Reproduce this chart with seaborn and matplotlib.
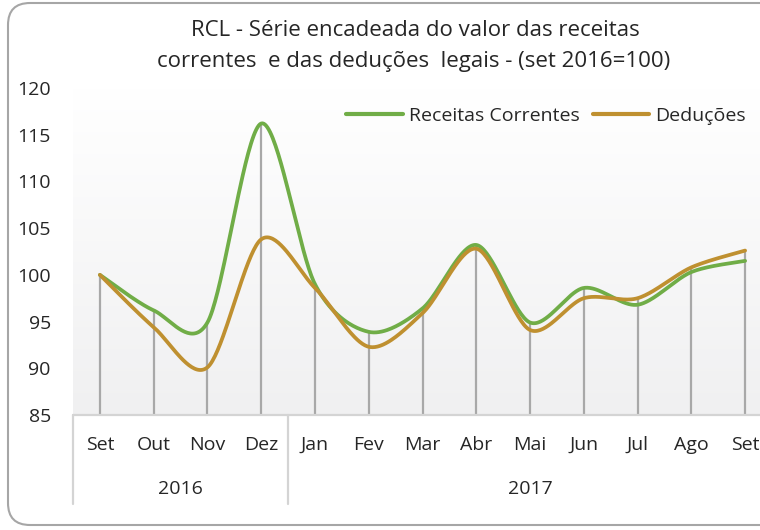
import numpy as np
import pandas as pd
import matplotlib
matplotlib.use("Agg")
import matplotlib.pyplot as plt
from matplotlib.colors import LinearSegmentedColormap
from matplotlib.patches import PathPatch
from matplotlib.path import Path
from matplotlib.lines import Line2D
import matplotlib.transforms as mtransforms
import seaborn as sns

# ---- data -------------------------------------------------------------
months = ["Set", "Out", "Nov", "Dez", "Jan", "Fev", "Mar", "Abr", "Mai",
          "Jun", "Jul", "Ago", "Set"]
years = ["2016", "2017"]
year_sizes = [4, 9]
receitas = [100.0, 96.2, 94.9, 116.2, 99.0, 93.9, 96.4, 103.2, 94.9,
            98.6, 96.8, 100.3, 101.5]
deducoes = [100.0, 94.4, 90.1, 103.8, 98.6, 92.3, 95.9, 102.8, 94.1,
            97.5, 97.5, 100.8, 102.6]
series_names = ["Receitas Correntes", "Deduções"]
y_ticks = [85, 90, 95, 100, 105, 110, 115, 120]
title = ("RCL - Série encadeada do valor das receitas",
         "correntes  e das deduções  legais - (set 2016=100)")

GREEN = "#70AD47"
GOLD = "#BF9030"
DROP = "#A8A8A8"
TEXT = "#262626"

sns.set_theme(style="white")
plt.rcParams["font.family"] = ["Open Sans", "DejaVu Sans"]


def smooth_curve(values, k=0.15, n=40):
    """Cubic Bezier smoothing through every point (spreadsheet style)."""
    y = np.asarray(values, float)
    x = np.arange(len(y), dtype=float)
    xs, ys = [], []
    last = len(y) - 2
    for i in range(len(y) - 1):
        i0 = max(i - 1, 0)
        i3 = min(i + 2, len(y) - 1)
        px = [x[i], x[i] + (x[i + 1] - x[i0]) * k,
              x[i + 1] - (x[i3] - x[i]) * k, x[i + 1]]
        py = [y[i], y[i] + (y[i + 1] - y[i0]) * k,
              y[i + 1] - (y[i3] - y[i]) * k, y[i + 1]]
        t = np.linspace(0, 1, n, endpoint=(i == last))
        b = [(1 - t) ** 3, 3 * (1 - t) ** 2 * t, 3 * (1 - t) * t ** 2, t ** 3]
        xs.append(sum(bi * p for bi, p in zip(b, px)))
        ys.append(sum(bi * p for bi, p in zip(b, py)))
    return np.concatenate(xs), np.concatenate(ys)


W, H = 760, 530
fig = plt.figure(figsize=(W / 100, H / 100), dpi=100)
fig.patch.set_facecolor("white")

x_left, x_right = 73, 772
y_top, y_bot = 88, 415
ax = fig.add_axes([x_left / W, 1 - y_bot / H, (x_right - x_left) / W,
                   (y_bot - y_top) / H])
ax.set_xlim(-0.5, len(months) - 0.5)
ax.set_ylim(85, 120)

# plot-area gradient
cmap = LinearSegmentedColormap.from_list("bg", ["#FFFFFF", "#F0F0F1"])
grad = np.linspace(0, 1, 256).reshape(-1, 1)
ax.imshow(grad, extent=[-0.5, len(months) - 0.5, 85, 120], cmap=cmap,
          aspect="auto", origin="upper", zorder=0)

# drop lines from each point to the category axis
xpos = np.arange(len(months))
tops = np.maximum(receitas, deducoes)
ax.vlines(xpos, 85, tops, color=DROP, lw=1.6, zorder=1)

# smoothed series
frames = []
for name, vals in zip(series_names, [receitas, deducoes]):
    sx, sy = smooth_curve(vals)
    frames.append(pd.DataFrame({"x": sx, "y": sy, "serie": name}))
curves = pd.concat(frames, ignore_index=True)
sns.lineplot(data=curves, x="x", y="y", hue="serie", sort=False,
             estimator=None, palette=[GREEN, GOLD], lw=2.7, ax=ax,
             legend=False, zorder=3)

for s in ax.spines.values():
    s.set_visible(False)
ax.set_xlabel("")
ax.set_ylabel("")
ax.set_xticks([])
ax.set_yticks(y_ticks)
ax.set_yticklabels([str(v) for v in y_ticks])
ax.tick_params(axis="y", length=0, pad=16, labelsize=14, labelcolor=TEXT)
ax.grid(False)

# category axis line
ax.axhline(85, color="#D4D4D4", lw=1.6, zorder=2, clip_on=False)

# two-level category labels
trans = mtransforms.blended_transform_factory(ax.transData, fig.transFigure)
for i, m in enumerate(months):
    ax.text(i, 1 - 445 / H, m, transform=trans, ha="center", va="center",
            fontsize=14, color=TEXT)
start = -0.5
for yr, n in zip(years, year_sizes):
    ax.text(start + n / 2, 1 - 489 / H, yr, transform=trans, ha="center",
            va="center", fontsize=14, color=TEXT)
    start += n
seps = np.cumsum([0] + year_sizes[:-1]) - 0.5
for sx in seps:
    ax.add_line(Line2D([sx, sx], [1 - 415 / H, 1 - 504 / H], transform=trans,
                       color="#D4D4D4", lw=1.6, clip_on=False))

# title
fig.text(415 / W, 1 - 31 / H, title[0], ha="center", va="center",
         fontsize=16, color=TEXT)
fig.text(414 / W, 1 - 61 / H, title[1], ha="center", va="center",
         fontsize=16, color=TEXT)

# legend
handles = [Line2D([], [], color=GREEN, lw=3), Line2D([], [], color=GOLD, lw=3)]
fig.legend(handles, series_names, loc="center",
           bbox_to_anchor=(546 / W, 1 - 116 / H), ncol=2, frameon=False,
           fontsize=14, handlelength=2.9, handletextpad=0.3,
           columnspacing=0.7, borderpad=0, labelcolor=TEXT)

# chart border: rounded on the left, running off the right edge
bx, btop, bbot, r, bend = 8, H - 3, H - 525, 22, W + 40
verts = [(bend, btop), (bx + r, btop), (bx, btop), (bx, btop - r),
         (bx, bbot + r), (bx, bbot), (bx + r, bbot), (bend, bbot)]
codes = [Path.MOVETO, Path.LINETO, Path.CURVE3, Path.CURVE3,
         Path.LINETO, Path.CURVE3, Path.CURVE3, Path.LINETO]
border = PathPatch(Path(verts, codes), transform=mtransforms.IdentityTransform(),
                   facecolor="none", edgecolor="#A6A6A6", lw=1.5)
fig.patches.append(border)

fig.savefig("out.png", dpi=100)
